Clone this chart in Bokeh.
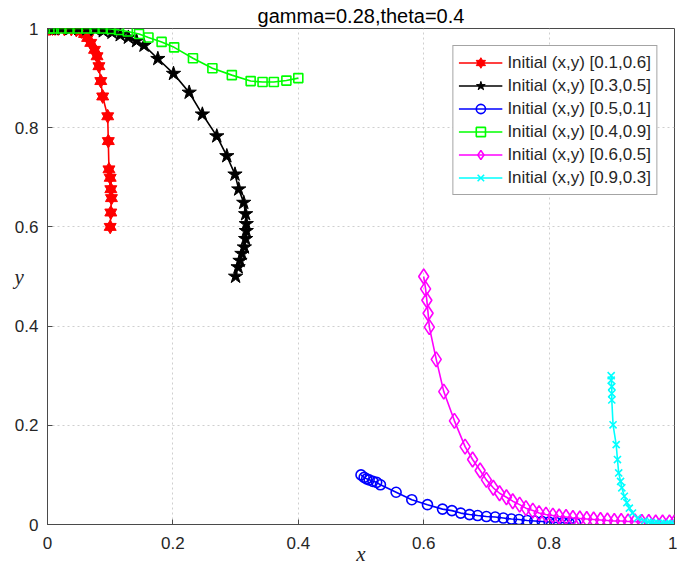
from bokeh.plotting import figure
from bokeh.models import Range1d, Legend, LegendItem, FixedTicker
from bokeh.embed import file_html
from bokeh.resources import INLINE

# ---------------- data ----------------
title_text = "gamma=0.28,theta=0.4"
x_label = "x"
y_label = "y"
tick_values = [0, 0.2, 0.4, 0.6, 0.8, 1]
tick_labels = ["0", "0.2", "0.4", "0.6", "0.8", "1"]

legend_labels = [
    "Initial (x,y) [0.1,0.6]",
    "Initial (x,y) [0.3,0.5]",
    "Initial (x,y) [0.5,0.1]",
    "Initial (x,y) [0.4,0.9]",
    "Initial (x,y) [0.6,0.5]",
    "Initial (x,y) [0.9,0.3]",
]

red_x = [0.100, 0.101, 0.102, 0.101, 0.100, 0.098, 0.097, 0.096, 0.088, 0.085, 0.082,
         0.079, 0.075, 0.069, 0.064, 0.059, 0.054, 0.046, 0.038, 0.027, 0.017, 0.012,
         0.008, 0.004, 0.002]
red_y = [0.600, 0.629, 0.658, 0.676, 0.699, 0.716, 0.773, 0.823, 0.863, 0.894, 0.924,
         0.944, 0.957, 0.971, 0.981, 0.989, 0.994, 0.997, 0.999, 0.999, 1.000, 1.000,
         1.000, 1.000, 1.000]

black_x = [0.300, 0.304, 0.307, 0.310, 0.314, 0.316, 0.317, 0.317, 0.316, 0.313, 0.305,
           0.299, 0.286, 0.270, 0.247, 0.226, 0.201, 0.176, 0.154, 0.142, 0.129, 0.116,
           0.103, 0.089, 0.076, 0.063, 0.050, 0.037, 0.022, 0.012, 0.006, 0.003]
black_y = [0.500, 0.519, 0.532, 0.546, 0.559, 0.576, 0.592, 0.606, 0.626, 0.649, 0.676,
           0.706, 0.743, 0.783, 0.827, 0.871, 0.909, 0.939, 0.966, 0.975, 0.982, 0.987,
           0.992, 0.995, 0.998, 0.999, 1.000, 1.000, 1.000, 1.000, 1.000, 1.000]

blue_x = [0.500, 0.505, 0.509, 0.513, 0.519, 0.525, 0.531, 0.556, 0.581, 0.606, 0.630,
          0.645, 0.659, 0.673, 0.686, 0.700, 0.714, 0.727, 0.740, 0.752, 0.765, 0.777,
          0.789, 0.800, 0.811, 0.822, 0.832, 0.842]
blue_y = [0.100, 0.095, 0.092, 0.090, 0.087, 0.085, 0.080, 0.065, 0.050, 0.040, 0.031,
          0.028, 0.023, 0.020, 0.018, 0.016, 0.015, 0.013, 0.011, 0.010, 0.008, 0.007,
          0.006, 0.005, 0.004, 0.004, 0.003, 0.003]

green_x = [0.400, 0.381, 0.361, 0.343, 0.324, 0.294, 0.263, 0.232, 0.202, 0.182, 0.161,
           0.146, 0.128, 0.114, 0.101, 0.088, 0.075, 0.062, 0.048, 0.035, 0.022, 0.010,
           0.003]
green_y = [0.900, 0.895, 0.892, 0.892, 0.894, 0.906, 0.920, 0.940, 0.962, 0.973, 0.982,
           0.989, 0.994, 0.997, 0.999, 1.000, 1.000, 1.000, 1.000, 1.000, 1.000, 1.000,
           1.000]

magenta_x = [0.600, 0.603, 0.605, 0.607, 0.609, 0.620, 0.632, 0.649, 0.666, 0.678, 0.690,
             0.700, 0.711, 0.721, 0.732, 0.742, 0.753, 0.763, 0.774, 0.784, 0.795, 0.806,
             0.816, 0.827, 0.838, 0.849, 0.860, 0.871, 0.882, 0.893, 0.904, 0.915, 0.926,
             0.937, 0.948, 0.959, 0.970, 0.981, 0.992, 1.000]
magenta_y = [0.500, 0.475, 0.452, 0.426, 0.398, 0.333, 0.268, 0.209, 0.157, 0.131, 0.109,
             0.090, 0.074, 0.063, 0.055, 0.047, 0.040, 0.033, 0.028, 0.023, 0.020, 0.018,
             0.016, 0.015, 0.013, 0.012, 0.011, 0.010, 0.009, 0.008, 0.007, 0.007, 0.006,
             0.006, 0.005, 0.005, 0.004, 0.004, 0.004, 0.004]

cyan_x = [0.899, 0.899, 0.900, 0.900, 0.900, 0.902, 0.907, 0.909, 0.911, 0.914, 0.916,
          0.920, 0.924, 0.928, 0.933, 0.941, 0.952, 0.958, 0.963, 0.968, 0.973, 0.978,
          0.984, 0.988, 0.993, 0.998]
cyan_y = [0.300, 0.291, 0.278, 0.264, 0.251, 0.201, 0.161, 0.131, 0.104, 0.087, 0.074,
          0.057, 0.044, 0.033, 0.023, 0.013, 0.007, 0.005, 0.004, 0.003, 0.003, 0.002,
          0.002, 0.002, 0.002, 0.002]

# ---------------- figure ----------------
AX = "#4a4a4a"
TXT = "#262626"
FONT = "Liberation Sans"
SERIF = "Liberation Serif"

p = figure(width=677, height=570, x_range=Range1d(0, 1), y_range=Range1d(0, 1),
           output_backend="svg", toolbar_location=None, title=title_text,
           min_border_left=47, min_border_right=3, min_border_top=27, min_border_bottom=46)
p.background_fill_color = "white"
p.border_fill_color = "white"
p.outline_line_color = AX
p.outline_line_width = 1

p.title.align = "center"
p.title.text_font = FONT
p.title.text_font_size = "20px"
p.title.text_font_style = "normal"
p.title.text_color = "#000000"
p.title.standoff = 4

overrides = dict(zip(tick_values, tick_labels))
for ax in (p.xaxis[0], p.yaxis[0]):
    ax.ticker = FixedTicker(ticks=tick_values)
    ax.major_label_overrides = overrides
    ax.axis_line_color = AX
    ax.major_tick_line_color = AX
    ax.major_tick_in = 5
    ax.major_tick_out = 0
    ax.minor_tick_line_color = None
    ax.major_label_text_font = FONT
    ax.major_label_text_font_size = "17px"
    ax.major_label_text_color = TXT
    ax.axis_label_text_font = SERIF
    ax.axis_label_text_font_style = "italic"
    ax.axis_label_text_font_size = "21px"
    ax.axis_label_text_color = TXT

p.xaxis.axis_label = x_label
p.yaxis.axis_label = y_label
p.xaxis.major_label_standoff = 12
p.yaxis.major_label_standoff = 9
p.xaxis.axis_label_standoff = -10
p.yaxis.axis_label_standoff = -12
try:
    p.yaxis[0].axis_label_orientation = "horizontal"
except Exception:
    pass

for g in (p.xgrid[0], p.ygrid[0]):
    g.ticker = FixedTicker(ticks=tick_values)
    g.grid_line_color = "#cfcfcf"
    g.grid_line_dash = "2 3"
    g.grid_line_width = 1

LW = 1.6
red, black, blue, green, magenta, cyan = "#ff0000", "#000000", "#0000ff", "#00ff00", "#ff00ff", "#00ffff"

items = []

l = p.line(red_x, red_y, line_color=red, line_width=LW)
m1 = p.scatter(red_x, red_y, marker="triangle", size=12, fill_color=red, line_color=red)
m2 = p.scatter(red_x, red_y, marker="inverted_triangle", size=12, fill_color=red, line_color=red)
items.append(LegendItem(label=legend_labels[0], renderers=[l, m1, m2]))

l = p.line(black_x, black_y, line_color=black, line_width=LW)
m = p.scatter(black_x, black_y, marker="star", size=15, fill_color=black, line_color=black)
items.append(LegendItem(label=legend_labels[1], renderers=[l, m]))

l = p.line(blue_x, blue_y, line_color=blue, line_width=LW)
m = p.scatter(blue_x, blue_y, marker="circle", size=10, fill_color=None, line_color=blue, line_width=LW)
items.append(LegendItem(label=legend_labels[2], renderers=[l, m]))

l = p.line(green_x, green_y, line_color=green, line_width=LW)
m = p.scatter(green_x, green_y, marker="square", size=9, fill_color=None, line_color=green, line_width=LW)
items.append(LegendItem(label=legend_labels[3], renderers=[l, m]))

l = p.line(magenta_x, magenta_y, line_color=magenta, line_width=LW)
m = p.scatter(magenta_x, magenta_y, marker="diamond", size=15, fill_color=None, line_color=magenta, line_width=LW)
items.append(LegendItem(label=legend_labels[4], renderers=[l, m]))

l = p.line(cyan_x, cyan_y, line_color=cyan, line_width=LW)
m = p.scatter(cyan_x, cyan_y, marker="x", size=10, line_color=cyan, line_width=LW)
items.append(LegendItem(label=legend_labels[5], renderers=[l, m]))

legend = Legend(items=items, location="top_right", margin=17, padding=5, spacing=0,
                glyph_width=44, glyph_height=23, label_height=23, label_standoff=5,
                label_text_font=FONT, label_text_font_size="17px", label_text_color=TXT,
                label_text_baseline="middle",
                border_line_color=AX, border_line_width=1, background_fill_color="white",
                background_fill_alpha=1)
p.add_layout(legend)

open("out.html", "w").write(file_html(p, INLINE))
